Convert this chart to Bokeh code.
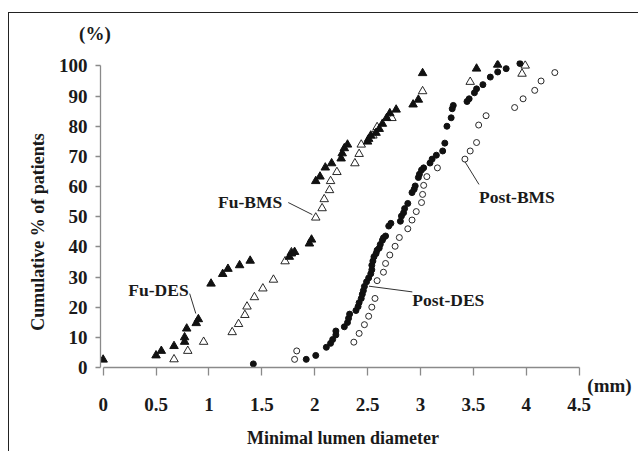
import math
from bokeh.plotting import figure
from bokeh.models import Range1d, FixedTicker, NumeralTickFormatter, Label, ColumnDataSource
from bokeh.embed import file_html
from bokeh.resources import INLINE

# ---------------- data ----------------
x_ticks = [0, 0.5, 1, 1.5, 2, 2.5, 3, 3.5, 4, 4.5]
y_ticks = [0, 10, 20, 30, 40, 50, 60, 70, 80, 90, 100]

fu_des_x = [0.00, 0.50, 0.55, 0.67, 0.77, 0.77, 0.79, 0.88, 0.90, 1.02, 1.13, 1.18, 1.29, 1.39,
            1.76, 1.78, 1.81, 1.95, 1.97, 2.01, 2.05, 2.10, 2.16, 2.25, 2.26, 2.28, 2.31, 2.50,
            2.51, 2.53, 2.58, 2.61, 2.64, 2.68, 2.71, 2.77, 2.93, 2.98, 3.02, 3.53, 3.73]
fu_des_y = [2.6, 4.0, 5.5, 7.1, 8.5, 10.0, 12.9, 14.7, 16.0, 27.8, 31.0, 32.7, 33.9, 35.4,
            36.7, 37.8, 38.3, 41.1, 42.4, 61.8, 63.3, 66.3, 67.7, 69.3, 71.0, 72.7, 73.9, 74.9,
            75.8, 76.9, 77.8, 79.1, 80.8, 82.7, 84.3, 85.5, 87.2, 88.8, 97.6, 99.1, 100.4]

fu_bms_x = [0.67, 0.80, 0.95, 1.22, 1.28, 1.34, 1.36, 1.43, 1.51, 1.61, 1.72, 1.78, 2.01, 2.07,
            2.09, 2.14, 2.15, 2.21, 2.38, 2.42, 2.44, 2.55, 2.59, 2.73, 3.02, 3.47, 3.96, 3.99]
fu_bms_y = [2.7, 5.5, 8.5, 11.7, 14.4, 17.4, 20.2, 23.3, 26.2, 29.1, 35.2, 38.2, 49.7, 52.8,
            55.8, 58.8, 61.8, 64.8, 67.7, 70.8, 73.9, 76.9, 79.7, 82.7, 91.6, 94.7, 97.4, 100.1]

post_des_x = [1.42, 1.92, 2.01, 2.11, 2.15, 2.17, 2.20, 2.20, 2.28, 2.31, 2.32, 2.33, 2.39, 2.41,
              2.42, 2.44, 2.45, 2.46, 2.47, 2.49, 2.51, 2.53, 2.54, 2.54, 2.55, 2.56, 2.58, 2.59,
              2.61, 2.62, 2.64, 2.65, 2.67, 2.70, 2.72, 2.81, 2.82, 2.84, 2.85, 2.88, 2.92, 2.94,
              2.95, 2.98, 2.99, 3.01, 3.03, 3.09, 3.11, 3.15, 3.21, 3.23, 3.25, 3.29, 3.30, 3.31,
              3.44, 3.46, 3.51, 3.53, 3.59, 3.66, 3.73, 3.81, 3.94]
post_des_y = [1.2, 2.7, 4.0, 6.7, 8.0, 9.3, 10.8, 12.1, 13.5, 14.9, 16.3, 17.7, 18.9, 20.2,
              21.5, 22.9, 24.3, 25.5, 26.9, 28.4, 29.7, 31.1, 32.4, 33.9, 35.3, 36.7, 37.8, 38.9,
              39.6, 40.8, 42.2, 43.0, 43.6, 46.9, 47.8, 48.5, 50.2, 51.3, 52.7, 54.4, 58.0, 59.1,
              60.2, 63.0, 64.1, 65.5, 66.2, 67.8, 69.1, 70.4, 71.8, 74.4, 80.0, 82.8, 85.8, 86.9,
              88.2, 89.1, 91.1, 92.4, 93.8, 96.3, 98.0, 99.1, 100.8]

post_bms_x = [1.81, 1.83, 2.37, 2.42, 2.47, 2.51, 2.54, 2.57, 2.59, 2.65, 2.67, 2.71, 2.76, 2.80,
              2.88, 2.92, 2.96, 3.01, 3.02, 3.03, 3.06, 3.16, 3.42, 3.47, 3.53, 3.55, 3.62, 3.89,
              3.97, 4.08, 4.14, 4.27]
post_bms_y = [2.7, 5.5, 8.4, 11.3, 14.2, 17.0, 20.0, 22.9, 28.8, 31.6, 34.5, 37.3, 40.2, 43.1,
              46.0, 48.9, 51.7, 54.7, 57.4, 60.4, 63.3, 66.2, 69.1, 71.8, 74.6, 80.4, 83.5, 86.2,
              89.1, 91.9, 95.0, 97.8]

ann_text = ["Fu-DES", "Fu-BMS", "Post-DES", "Post-BMS"]
ann_x = [0.523, 1.389, 2.923, 3.553]
ann_y = [25.6, 54.9, 22.3, 56.6]
ann_align = ["center", "center", "left", "left"]
lead_x0 = [0.818, 1.750, 2.513, 3.421]
lead_y0 = [24.5, 54.7, 26.96, 68.2]
lead_x1 = [0.876, 1.977, 2.923, 3.553]
lead_y1 = [17.9, 50.7, 25.07, 60.7]

# ---------------- styling ----------------
FONT = "Liberation Serif"
TXT = "#1a1a1a"
AX = "#8a8a8a"
INK = "#111111"

p = figure(width=630, height=439, output_backend="svg", toolbar_location=None,
           x_range=Range1d(-0.025, 4.56), y_range=Range1d(0, 101.8),
           min_border_left=91, min_border_right=54, min_border_top=47, min_border_bottom=85)
p.styles = {"border-top": "1px solid #222", "border-left": "1px solid #222",
            "margin-top": "12px", "margin-left": "8px"}
p.xgrid.visible = False
p.ygrid.visible = False
p.outline_line_color = None
p.background_fill_color = "white"
p.border_fill_color = "white"

xa = p.xaxis[0]
xa.ticker = FixedTicker(ticks=x_ticks)
xa.formatter = NumeralTickFormatter(format="0.[0]")
xa.bounds = (0, 4.5)
xa.axis_line_color = AX
xa.axis_line_width = 1.3
xa.major_tick_line_color = AX
xa.major_tick_line_width = 1.3
xa.major_tick_in = 0
xa.major_tick_out = 8
xa.minor_tick_line_color = None
xa.major_label_text_font = FONT
xa.major_label_text_font_style = "bold"
xa.major_label_text_font_size = "19px"
xa.major_label_text_color = TXT
xa.major_label_standoff = 22
xa.axis_label = "Minimal lumen diameter"
xa.axis_label_text_font = FONT
xa.axis_label_text_font_style = "bold"
xa.axis_label_text_font_size = "18px"
xa.axis_label_text_color = TXT
xa.axis_label_standoff = 14

ya = p.yaxis[0]
ya.ticker = FixedTicker(ticks=y_ticks)
ya.bounds = (0, 100)
ya.axis_line_color = AX
ya.axis_line_width = 1.3
ya.major_tick_line_color = AX
ya.major_tick_line_width = 1.3
ya.major_tick_in = 0
ya.major_tick_out = 5
ya.minor_tick_line_color = None
ya.major_label_text_font = FONT
ya.major_label_text_font_style = "bold"
ya.major_label_text_font_size = "19px"
ya.major_label_text_color = TXT
ya.major_label_standoff = 8

# series
p.scatter(fu_bms_x, fu_bms_y, marker="triangle", size=8.5, fill_color="white",
          line_color=INK, line_width=0.9)
p.scatter(post_bms_x, post_bms_y, marker="circle", size=6, fill_color="white",
          line_color=INK, line_width=0.9)
p.scatter(fu_des_x, fu_des_y, marker="triangle", size=8.5, fill_color=INK, line_color=INK)
p.scatter(post_des_x, post_des_y, marker="circle", size=6, fill_color=INK, line_color=INK)

# leader lines and annotation labels
lead_src = ColumnDataSource(dict(x0=lead_x0, y0=lead_y0, x1=lead_x1, y1=lead_y1))
p.segment("x0", "y0", "x1", "y1", source=lead_src, line_color="#333333", line_width=1)
for t, x, y, a in zip(ann_text, ann_x, ann_y, ann_align):
    p.add_layout(Label(x=x, y=y, text=t, text_align=a, text_baseline="alphabetic",
                       text_font=FONT, text_font_style="bold", text_font_size="17.5px",
                       text_color=TXT))

# axis captions (placed in side panels so they are not clipped to the frame)
p.add_layout(Label(x=-0.617, y=44.9, text="Cumulative % of patients", angle=math.pi / 2,
                   text_align="center", text_baseline="middle", text_font=FONT,
                   text_font_style="bold", text_font_size="18px", text_color=TXT), "left")
p.add_layout(Label(x=-0.078, y=110.8, text="(%)", text_align="center", text_baseline="middle",
                   text_font=FONT, text_font_style="bold", text_font_size="19px",
                   text_color=TXT), "above")
p.add_layout(Label(x=4.787, y=-6.0, text="(mm)", text_align="center", text_baseline="middle",
                   text_font=FONT, text_font_style="bold", text_font_size="19px",
                   text_color=TXT), "right")

open("out.html", "w").write(file_html(p, INLINE))
